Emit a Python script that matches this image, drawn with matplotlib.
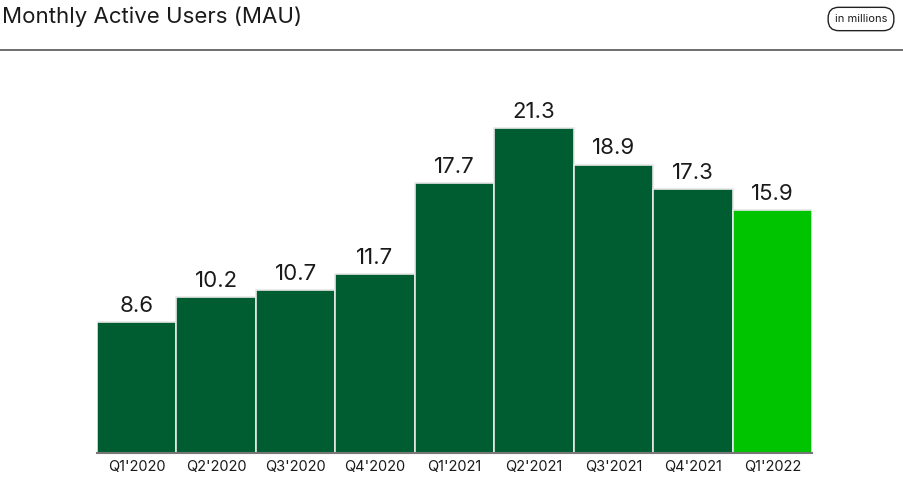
import matplotlib.pyplot as plt

quarters = ["Q1'2020", "Q2'2020", "Q3'2020", "Q4'2020", "Q1'2021",
            "Q2'2021", "Q3'2021", "Q4'2021", "Q1'2022"]
mau = [8.6, 10.2, 10.7, 11.7, 17.7, 21.3, 18.9, 17.3, 15.9]

dark_green = "#005d32"
light_green = "#00c400"
colors = [dark_green] * (len(mau) - 1) + [light_green]

plt.rcParams['font.family'] = ['Inter', 'DejaVu Sans']

fig = plt.figure(figsize=(9.04, 4.78), dpi=100)
ax = fig.add_axes([97 / 904, 25 / 478, 715 / 904, 353 / 478])

x = list(range(len(mau)))
ax.bar(x, mau, width=1.0, color=colors, edgecolor="#e8e8e8", linewidth=1.2)
for xi, v in zip(x, mau):
    ax.text(xi, v + 0.4, f"{v}", ha="center", va="bottom", fontsize=16, color="#1a1a1a")

ax.set_xlim(-0.5, len(mau) - 0.5)
ax.set_ylim(0, 23.13)
ax.set_xticks(x)
ax.set_xticklabels(quarters, fontsize=10.5, color="#1a1a1a")
ax.tick_params(axis="x", length=0, pad=5)
ax.set_yticks([])
for s in ["top", "left", "right"]:
    ax.spines[s].set_visible(False)
ax.spines["bottom"].set_color("#777777")
ax.spines["bottom"].set_linewidth(1.5)

fig.text(2 / 904, 1 - 17 / 478, "Monthly Active Users (MAU)", fontsize=16,
         color="#1a1a1a", ha="left", va="center")
fig.add_artist(plt.Line2D([0, 1], [1 - 50 / 478, 1 - 50 / 478], color="#555555", linewidth=1.2))

# "in millions" pill
fig.text(861 / 904, 1 - 19 / 478, "in millions", fontsize=8, color="#1a1a1a",
         ha="center", va="center",
         bbox=dict(boxstyle="round,pad=0.6,rounding_size=0.95", facecolor="white",
                   edgecolor="#222222", linewidth=1.0))

fig.savefig("out.png", dpi=100)
